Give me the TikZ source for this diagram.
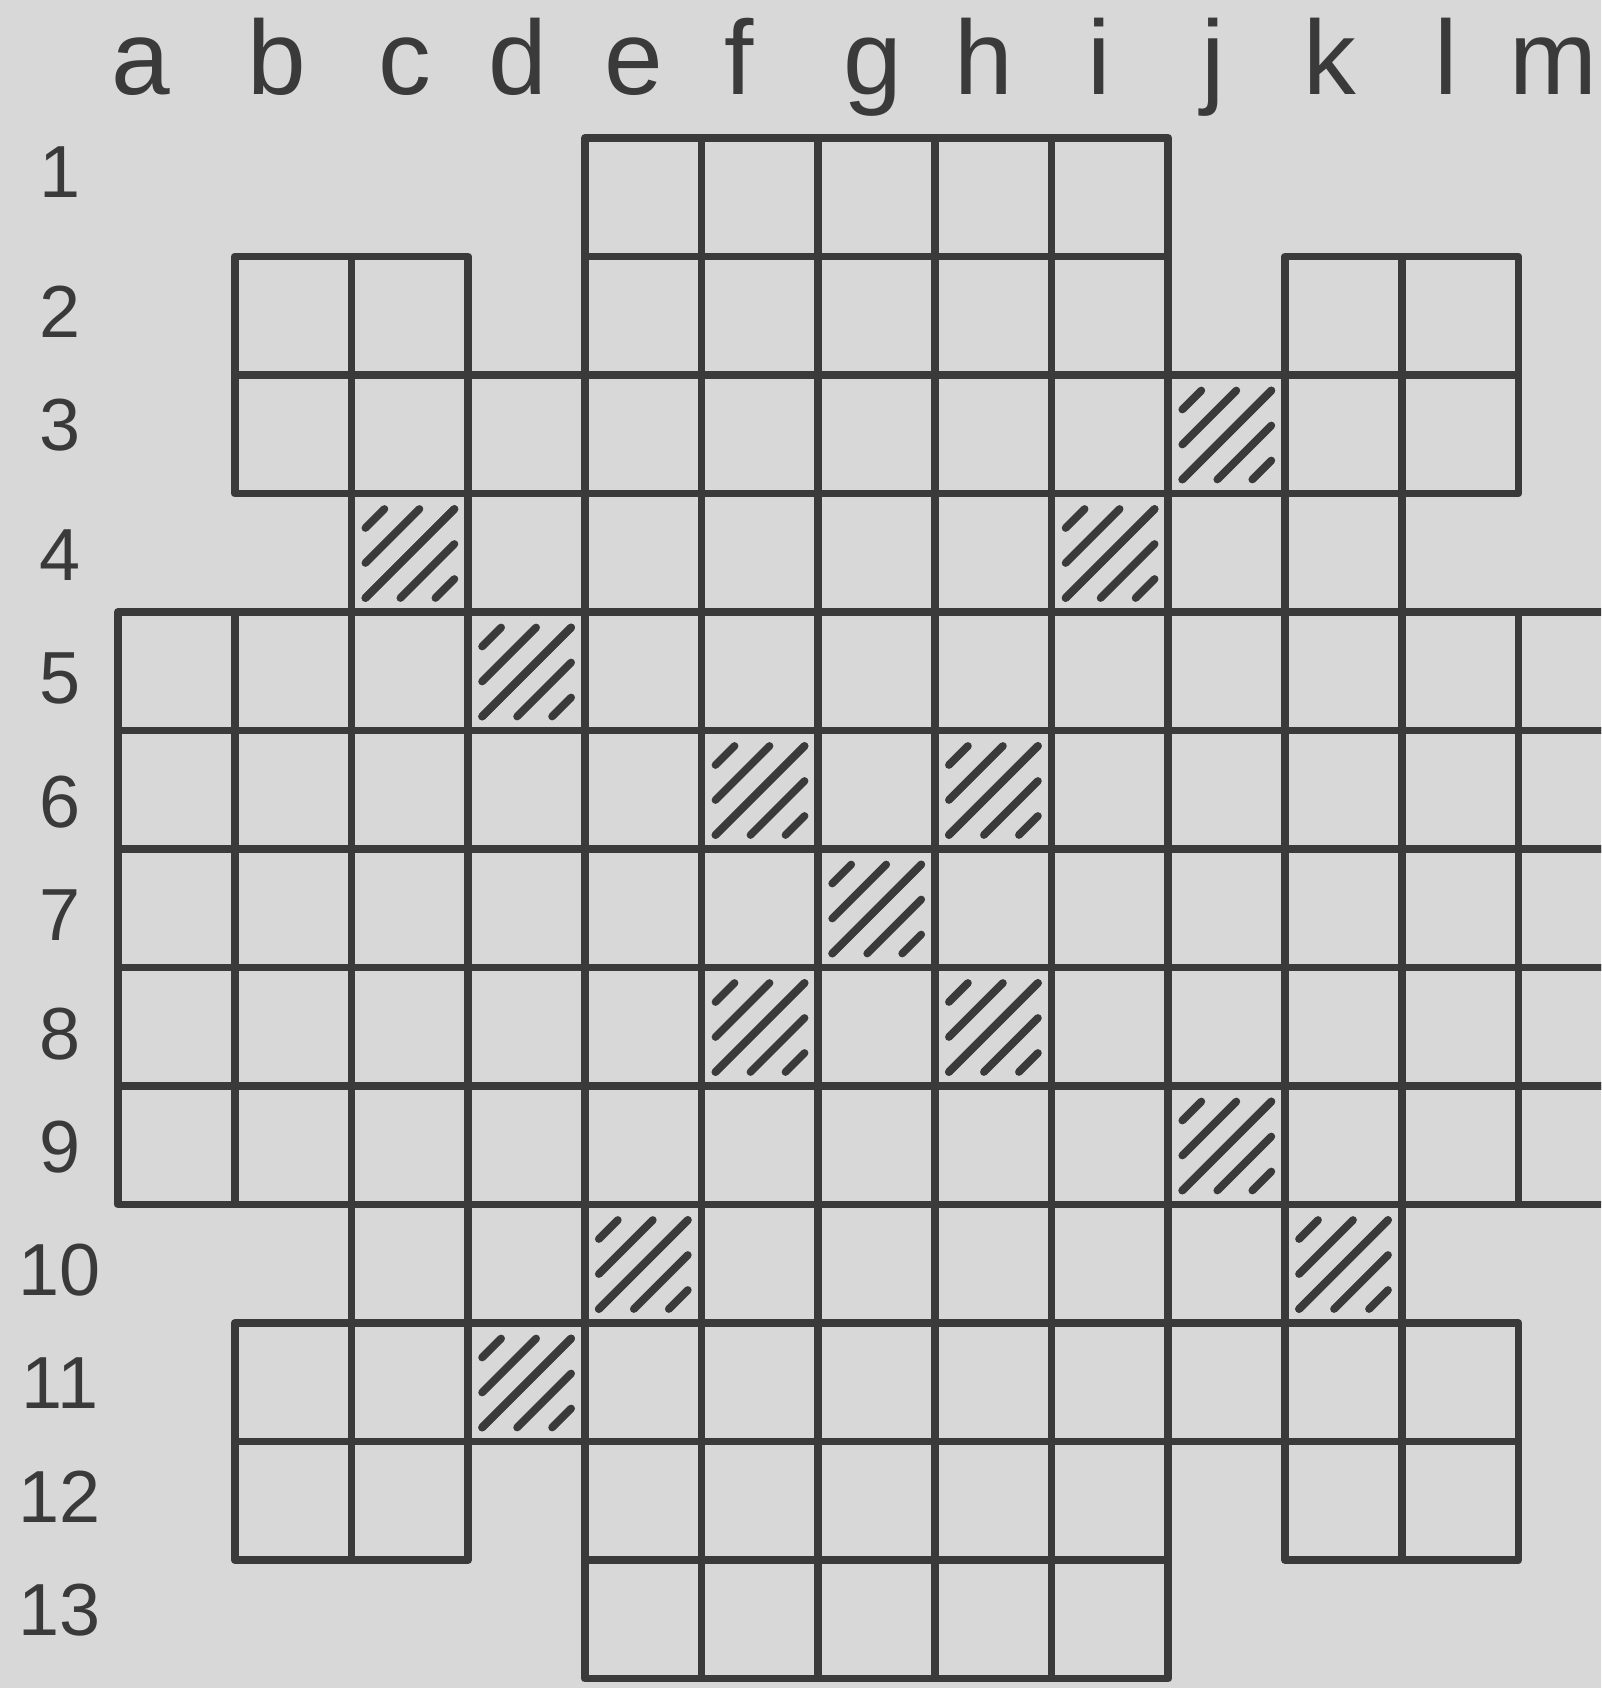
\documentclass[tikz,border=0pt]{standalone}
\usepackage{fontspec}
\setmainfont{Liberation Sans}
\usepackage{xcolor}
\usetikzlibrary{positioning}

\definecolor{paper}{HTML}{D8D8D8}
\definecolor{ink}{HTML}{3A3A3A}

\tikzset{
  cellbox/.style={draw=ink, line width=2.2pt, line join=round},
  hatch/.style={draw=ink, line width=2.2pt, line cap=round},
  collabel/.style={text=ink, anchor=base, inner sep=0pt, font=\fontsize{30}{30}\selectfont},
  rowlabel/.style={text=ink, inner sep=0pt, font=\fontsize{21}{21}\selectfont}
}

\begin{document}
\begin{tikzpicture}[x=0.1mm, y=-0.1mm]
  \useasboundingbox (0,0) rectangle (1601,1688);
  \fill[paper] (0,0) rectangle (1601,1688);
  \clip (0,0) rectangle (1601,1688);

  % column letters
  \foreach \c/\x in {a/141,b/277,c/405,d/518,e/634,f/739,g/873,h/984,i/1099,j/1213,k/1330,l/1446,m/1553}
    \node[collabel] (col-\c) at (\x,95) {\c};

  % row numbers
  \foreach \r/\y in {1/172,2/312,3/425,4/555,5/678,6/802,7/915,8/1034,9/1147,10/1270,11/1383,12/1497,13/1610}
    \node[rowlabel] (row-\r) at (60,\y) {\r};

  % squares of the board: row / first column / last column
  \foreach \r/\from/\to in {1/4/8, 2/1/2, 2/4/8, 2/10/11, 3/1/11, 4/2/10,
                            5/0/12, 6/0/12, 7/0/12, 8/0/12, 9/0/12, 10/2/10,
                            11/1/11, 12/1/2, 12/4/8, 12/10/11, 13/4/8}
    \foreach \c in {\from,...,\to}
      \draw[cellbox] ({118+116.7*\c},{138+118.5*(\r-1)}) rectangle ++(116.7,118.5);

  % hatched squares
  \foreach \c/\r in {9/3, 2/4, 8/4, 3/5, 5/6, 7/6, 6/7, 5/8, 7/8, 9/9, 4/10, 10/10, 3/11} {
    \begin{scope}[shift={({118+116.7*\c},{138+118.5*\r})}, y=0.1mm]
      \foreach \d in {0,35,70} {
        \draw[hatch] (14,{14+\d}) -- ({103-\d},103);
        \draw[hatch] ({14+\d},14) -- (103,{103-\d});
      }
    \end{scope}
  }
\end{tikzpicture}
\end{document}
